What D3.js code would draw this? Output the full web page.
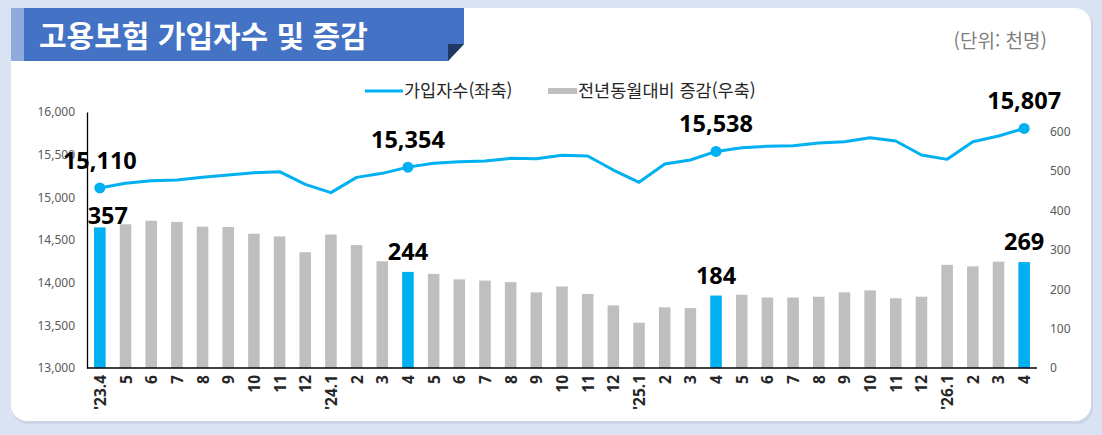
<!DOCTYPE html>
<html lang="ko">
<head>
<meta charset="UTF-8">
<title>고용보험 가입자수 및 증감</title>
<script src="https://d3js.org/d3.v7.min.js"></script>
<style>
    html, body { margin: 0; padding: 0; background: #dae3f3; }
    svg { display: block; font-family: "Noto Sans CJK KR", "Noto Sans", sans-serif; }
</style>
</head>
<body>
<div id="chart"></div>
<script>
    // x categories, 2023.4 ~ 2026.4
    const months = ["'23.4","5","6","7","8","9","10","11","12",
                    "'24.1","2","3","4","5","6","7","8","9","10","11","12",
                    "'25.1","2","3","4","5","6","7","8","9","10","11","12",
                    "'26.1","2","3","4"];
    // 가입자수 (천명, left axis)
    const members = [15110,15164,15195,15203,15234,15262,15289,15301,15152,
                     15055,15234,15281,15354,15399,15418,15426,15457,15453,15492,15484,15320,
                     15176,15391,15438,15538,15582,15598,15605,15637,15652,15699,15660,15496,
                     15445,15652,15719,15807];
    // 전년동월대비 증감 (천명, right axis)
    const changes = [357,365,374,371,359,358,341,334,294,
                     339,312,271,244,239,225,222,218,192,207,188,159,
                     115,154,152,184,186,179,179,181,192,197,177,181,
                     262,258,270,269];
    // months with labels / highlight
    const highlighted = [0, 12, 24, 36];

    const leftTicks = [13000,13500,14000,14500,15000,15500,16000];
    const rightTicks = [0,100,200,300,400,500,600];

    const W = 1102, H = 435;
    const svg = d3.select("#chart").append("svg")
        .attr("width", W)
        .attr("height", H);

    // background panel
    svg.append("rect")
        .attr("x", 12).attr("y", 10).attr("width", 1081).attr("height", 414)
        .attr("rx", 16).attr("fill", "#c3cbd9").attr("opacity", 0.6);
    svg.append("rect")
        .attr("x", 11).attr("y", 8).attr("width", 1080).attr("height", 413)
        .attr("rx", 16).attr("fill", "#ffffff");

    // title banner
    svg.append("polygon")
        .attr("points", "11,8 464,8 464,44 448,61 11,61")
        .attr("fill", "#4472c4");
    svg.append("rect")
        .attr("x", 11).attr("y", 8).attr("width", 13).attr("height", 53)
        .attr("fill", "#8faadc");
    svg.append("polygon")
        .attr("points", "448,44 464,44 448,61")
        .attr("fill", "#1f3864");
    svg.append("text")
        .attr("x", 39).attr("y", 47)
        .attr("fill", "#ffffff")
        .attr("font-size", "30px")
        .attr("font-weight", "bold")
        .text("고용보험 가입자수 및 증감");

    svg.append("text")
        .attr("x", 1047).attr("y", 48)
        .attr("text-anchor", "end")
        .attr("fill", "#7f7f7f")
        .attr("font-size", "19px")
        .text("(단위: 천명)");

    // legend
    const legend = svg.append("g");
    legend.append("line")
        .attr("x1", 365).attr("x2", 403).attr("y1", 91).attr("y2", 91)
        .attr("stroke", "#00b0f0").attr("stroke-width", 3);
    legend.append("text")
        .attr("x", 404).attr("y", 97)
        .attr("font-size", "17.5px").attr("fill", "#262626")
        .text("가입자수(좌축)");
    legend.append("rect")
        .attr("x", 548).attr("y", 88).attr("width", 29).attr("height", 6)
        .attr("fill", "#bfbfbf");
    legend.append("text")
        .attr("x", 578).attr("y", 97)
        .attr("font-size", "17.5px").attr("fill", "#262626")
        .text("전년동월대비 증감(우축)");

    // scales
    const x = d3.scaleBand()
        .domain(d3.range(months.length))
        .range([87, 1037])
        .paddingInner(0.55)
        .paddingOuter(0.275);

    const yL = d3.scaleLinear().domain([13000, 16000]).range([368, 112]);
    const yR = d3.scaleLinear().domain([0, 650]).range([368, 112]);

    // bars
    svg.append("g").selectAll("rect")
        .data(changes)
        .join("rect")
        .attr("x", (d, i) => x(i))
        .attr("width", x.bandwidth())
        .attr("y", d => yR(d))
        .attr("height", d => yR(0) - yR(d))
        .attr("fill", (d, i) => highlighted.includes(i) ? "#00b0f0" : "#bfbfbf");

    // axes
    const axisL = svg.append("g")
        .attr("transform", "translate(87,0)")
        .call(d3.axisLeft(yL).tickValues(leftTicks).tickSize(0).tickPadding(12)
            .tickFormat(d3.format(",")));
    axisL.select(".domain").attr("stroke", "#000").attr("stroke-width", 1.3);
    axisL.selectAll("text")
        .attr("font-size", "12px")
        .attr("fill", "#595959")
        .attr("font-family", "Noto Sans, sans-serif");

    const axisR = svg.append("g")
        .attr("transform", "translate(1045,0)")
        .call(d3.axisRight(yR).tickValues(rightTicks).tickSize(0).tickPadding(5));
    axisR.select(".domain").remove();
    axisR.selectAll("text")
        .attr("font-size", "12px")
        .attr("fill", "#595959")
        .attr("font-family", "Noto Sans, sans-serif");

    svg.append("line")
        .attr("x1", 87).attr("x2", 1037)
        .attr("y1", 368).attr("y2", 368)
        .attr("stroke", "#000").attr("stroke-width", 1.3);

    // x labels, rotated
    svg.append("g").selectAll("text")
        .data(months)
        .join("text")
        .attr("transform", (d, i) => `translate(${x(i) + x.bandwidth() / 2},375) rotate(-90)`)
        .attr("text-anchor", "end")
        .attr("dominant-baseline", "central")
        .attr("font-size", "15.5px")
        .attr("font-weight", "bold")
        .attr("fill", "#262626")
        .attr("font-family", "Noto Sans, sans-serif")
        .text(d => d);

    // line
    const cx = i => x(i) + x.bandwidth() / 2;
    svg.append("path")
        .datum(members)
        .attr("fill", "none")
        .attr("stroke", "#00b0f0")
        .attr("stroke-width", 3)
        .attr("stroke-linejoin", "round")
        .attr("d", d3.line().x((d, i) => cx(i)).y(d => yL(d)));

    svg.append("g").selectAll("circle")
        .data(highlighted)
        .join("circle")
        .attr("cx", i => cx(i))
        .attr("cy", i => yL(members[i]))
        .attr("r", 5.5)
        .attr("fill", "#00b0f0");

    // data labels
    const fmt = d3.format(",");
    svg.append("g").selectAll("text")
        .data(highlighted)
        .join("text")
        .attr("x", i => cx(i))
        .attr("y", i => yL(members[i]) - 19)
        .attr("text-anchor", "middle")
        .attr("font-size", "23.5px")
        .attr("font-weight", "bold")
        .attr("fill", "#000")
        .attr("font-family", "Noto Sans, sans-serif")
        .text(i => fmt(members[i]));

    svg.append("g").selectAll("text")
        .data(highlighted)
        .join("text")
        .attr("x", i => cx(i) + (i === 0 ? 8 : 0))
        .attr("y", i => yR(changes[i]) - (i === 0 ? 3 : 12))
        .attr("text-anchor", "middle")
        .attr("font-size", "23.5px")
        .attr("font-weight", "bold")
        .attr("fill", "#000")
        .attr("font-family", "Noto Sans, sans-serif")
        .text(i => changes[i]);
</script>
</body>
</html>
